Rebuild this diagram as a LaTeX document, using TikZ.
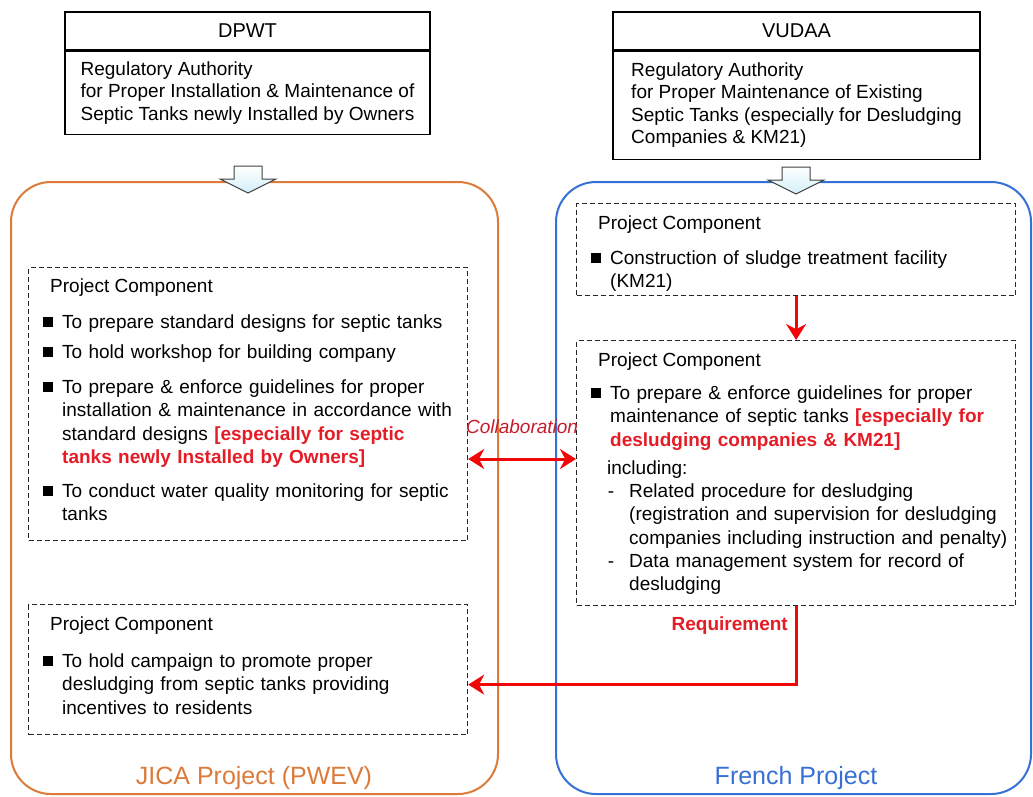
\documentclass[tikz,border=0pt]{standalone}
\usepackage{fontspec}
\setmainfont{Liberation Sans}
\usepackage{xcolor}
\usepackage{tikz}
\usetikzlibrary{arrows.meta, positioning, calc}
\definecolor{jicaorange}{RGB}{220,122,58}
\definecolor{frenchblue}{RGB}{55,112,212}
\definecolor{alertred}{RGB}{228,28,38}
\definecolor{arrowred}{RGB}{240,8,8}
\definecolor{collabred}{RGB}{196,30,45}
\definecolor{blockfill}{RGB}{210,239,247}
\newcommand{\sqmark}{\rule[1pt]{10.5pt}{10.5pt}}
\newcommand{\sqitem}{\leavevmode\llap{\sqmark\hspace{9pt}}}
\newcommand{\dashitem}{\leavevmode\llap{-\hspace{15pt}}}
\newcommand{\hl}[1]{\textcolor{alertred}{\textbf{#1}}}
\tikzset{
  redtip/.tip={Stealth[length=16pt, width=20pt]},
  agency/.style={rectangle, draw=black, line width=1.2pt, minimum width=365pt,
                 minimum height=38pt, inner sep=0pt, font=\fontsize{20}{24}\selectfont},
  mandate/.style={rectangle, draw=black, line width=1.2pt, align=left, inner sep=0pt,
                  font=\fontsize{19}{22.5}\selectfont},
  project/.style={rectangle, rounded corners=40pt, line width=2pt, anchor=north west},
  comp/.style={rectangle, draw=black!85, line width=1.2pt, dash pattern=on 5pt off 3pt,
               anchor=north west},
  head/.style={anchor=base west, inner sep=0pt, font=\fontsize{19}{23.5}\selectfont},
  itm/.style={anchor=base west, inner sep=0pt, text width=420pt, align=left,
              font=\fontsize{19}{23.5}\selectfont},
  arr/.style={-redtip, line width=3pt, draw=arrowred},
  blockarr/.style={draw=black!75, line width=1pt, top color=white, bottom color=blockfill},
}

\begin{document}
\begin{tikzpicture}[x=1pt, y=-1pt]
\useasboundingbox (0,0) rectangle (1033,796);

% Regulatory authorities on top
\node[agency] (dpwt) at (247.5,31) {DPWT};
\node[mandate, below=0pt of dpwt, minimum width=365pt, minimum height=83pt] (dpwtrole)
  {Regulatory Authority\\ for Proper Installation \& Maintenance of\\ Septic Tanks newly Installed by Owners};
\node[agency, minimum width=367pt] (vudaa) at (796.5,31) {VUDAA};
\node[mandate, below=0pt of vudaa, minimum width=367pt, minimum height=108pt] (vudaarole)
  {Regulatory Authority\\ for Proper Maintenance of Existing\\ Septic Tanks (especially for Desludging\\ Companies \& KM21)};

% The two projects
\node[project, draw=jicaorange, minimum width=487pt, minimum height=612pt] (jica) at (10,181) {};
\node[project, draw=frenchblue, minimum width=475pt, minimum height=612pt] (french) at (555,181) {};
\node[anchor=base, font=\fontsize{25}{30}\selectfont, text=jicaorange] (jicaname) at (254,784) {JICA Project (PWEV)};
\node[anchor=base, font=\fontsize{25}{30}\selectfont, text=frenchblue] (frenchname) at (796,784) {French Project};

% Block arrows from the authorities
\coordinate (dpwtin) at (248,166);
\coordinate (vudaain) at (796,167);
\foreach \c in {dpwtin, vudaain}
  \draw[blockarr] (\c) ++(-14,0) -- ++(28,0) -- ++(0,13) -- ++(14,0) -- ++(-28,14)
    -- ++(-28,-14) -- ++(14,0) -- cycle;

% JICA components
\node[comp, minimum width=439pt, minimum height=273pt] (jc1) at (28,267) {};
\node[head] (jc1head) at (50,292) {Project Component};
\node[itm] (jc1a) at (62,328) {\sqitem To prepare standard designs for septic tanks};
\node[itm] (jc1b) at (62,358) {\sqitem To hold workshop for building company};
\node[itm] (jc1c) at (62,393) {\sqitem To prepare \& enforce guidelines for proper\\
  installation \& maintenance in accordance with\\
  standard designs \hl{[especially for septic}\\ \hl{tanks newly Installed by Owners]}};
\node[itm] (jc1d) at (62,497) {\sqitem To conduct water quality monitoring for septic\\ tanks};

\node[comp, minimum width=439pt, minimum height=130pt] (jc2) at (28,604) {};
\node[head] (jc2head) at (50,630) {Project Component};
\node[itm] (jc2a) at (62,667) {\sqitem To hold campaign to promote proper\\
  desludging from septic tanks providing\\ incentives to residents};

% French components
\node[comp, minimum width=439pt, minimum height=92pt] (fr1) at (576,203) {};
\node[head] (fr1head) at (598,229) {Project Component};
\node[itm] (fr1a) at (610,264) {\sqitem Construction of sludge treatment facility\\ (KM21)};

\node[comp, minimum width=439pt, minimum height=265pt] (fr2) at (576,340) {};
\node[head] (fr2head) at (598,366) {Project Component};
\node[itm] (fr2a) at (610,399) {\sqitem To prepare \& enforce guidelines for proper\\
  maintenance of septic tanks \hl{[especially for}\\ \hl{desludging companies \& KM21]}};
\node[head] (fr2incl) at (607,474) {including:};
\node[itm, text width=390pt] (fr2b) at (629,497) {\dashitem Related procedure for desludging\\
  (registration and supervision for desludging\\ companies including instruction and penalty)};
\node[itm, text width=390pt] (fr2c) at (629,567) {\dashitem Data management system for record of\\ desludging};

% Links between components
\coordinate (collab) at (0,459);
\draw[arr] (fr1.south) -- (fr2.north);
\draw[arr, redtip-redtip] (jc1.east |- collab) -- (fr2.west |- collab)
  node[midway, above=24pt, inner sep=0pt, font=\fontsize{19}{23}\selectfont\itshape, text=collabred] {Collaboration};
\draw[arr] (fr2.south) |- ([yshift=-15pt]jc2.east);
\node[anchor=base east, inner sep=0pt, font=\fontsize{19}{23}\selectfont\bfseries, text=alertred] (req) at (788,630) {Requirement};
\end{tikzpicture}
\end{document}
